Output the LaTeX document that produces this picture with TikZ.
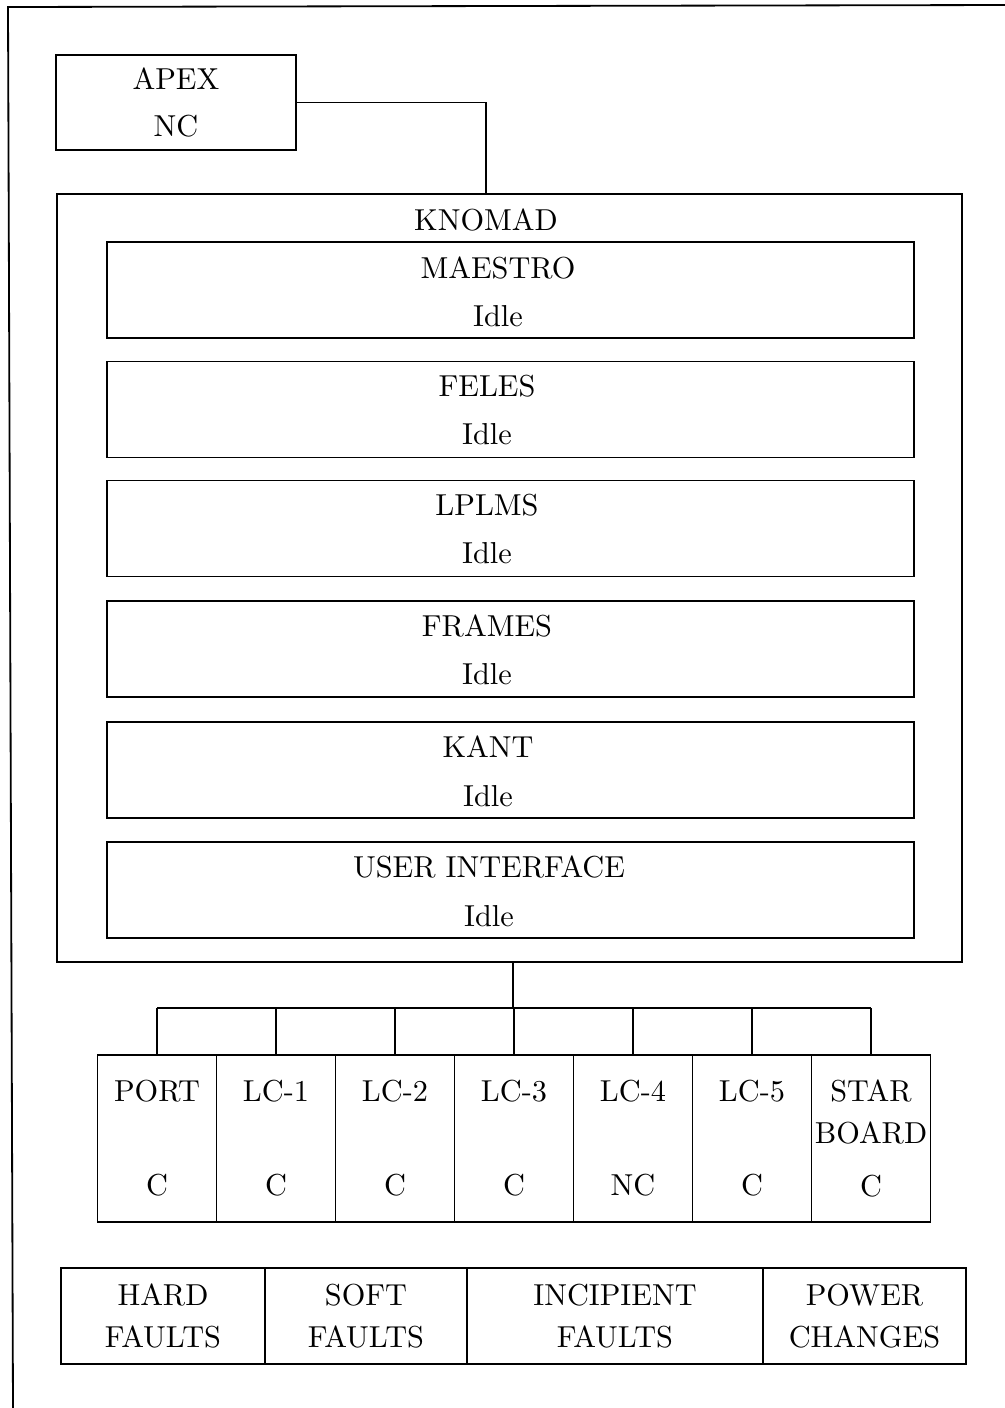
\documentclass[tikz,border=0pt]{standalone}
\usepackage{tikz}
\usetikzlibrary{positioning}
\newcommand\unitpx{0.33pt}
\tikzset{
  box/.style={draw, semithick, inner sep=0pt, outer sep=0pt, align=center},
  modbox/.style={box, minimum width=807*\unitpx, minimum height=96*\unitpx},
  lcbox/.style={box, minimum width=119*\unitpx, minimum height=167*\unitpx},
  faultbox/.style={box, minimum height=96*\unitpx},
  lbl/.style={inner sep=0pt, align=center},
  wire/.style={semithick},
}
\begin{document}
\begin{tikzpicture}[x=\unitpx, y=-\unitpx]
        \useasboundingbox (0,0) rectangle (1005,1408);
        \draw[wire] (13,1408) -- (8,7) -- (1005,5);
        % top level
        \node[box, minimum width=240*\unitpx, minimum height=95*\unitpx] (apex) at (176,102.5) {APEX\\[3.5pt]NC};
        \node[box, minimum width=905*\unitpx, minimum height=768*\unitpx] (knomad) at (509.5,578) {};
        \node[lbl] (ktitle) at (486,220) {KNOMAD};
        \draw[wire] (apex.east) -| (ktitle |- knomad.north);
        % modules
        \node[modbox] (maestro) at (510.5,290) {};
        \node[lbl] (maestrot) at (498,292) {MAESTRO\\[4pt]Idle};
        \node[modbox] (feles) at (510.5,409.5) {};
        \node[lbl] (felest) at (487,410) {FELES\\[4pt]Idle};
        \node[modbox] (lplms) at (510.5,528.5) {};
        \node[lbl] (lplmst) at (487,529) {LPLMS\\[4pt]Idle};
        \node[modbox] (frames) at (510.5,649) {};
        \node[lbl] (framest) at (487,650) {FRAMES\\[4pt]Idle};
        \node[modbox] (kant) at (510.5,770) {};
        \node[lbl] (kantt) at (488,771.5) {KANT\\[4pt]Idle};
        \node[modbox] (ui) at (510.5,890) {};
        \node[lbl] (uit) at (489,891.5) {USER INTERFACE\\[4pt]Idle};
        % line controllers
        \node[lcbox] (port) at (157,1138.5) {PORT\\[19pt]C};
        \node[lcbox, right=0pt of port] (lc1) {LC-1\\[19pt]C};
        \node[lcbox, right=0pt of lc1] (lc2) {LC-2\\[19pt]C};
        \node[lcbox, right=0pt of lc2] (lc3) {LC-3\\[19pt]C};
        \node[lcbox, right=0pt of lc3] (lc4) {LC-4\\[19pt]NC};
        \node[lcbox, right=0pt of lc4] (lc5) {LC-5\\[19pt]C};
        \node[lcbox, right=0pt of lc5] (star) {STAR\\[2pt]BOARD\\[5.5pt]C};
        \coordinate (bus) at (513,1008);
        \draw[wire] (bus |- knomad.south) -- (bus);
        \draw[wire] (port.north |- bus) -- (star.north |- bus);
        \foreach \n in {port,lc1,lc2,lc3,lc4,lc5,star}
          \draw[wire] (\n.north) -- (\n.north |- bus);
        % fault classes
        \node[faultbox, minimum width=204*\unitpx] (hard) at (163,1316) {HARD\\[2pt]FAULTS};
        \node[faultbox, minimum width=202*\unitpx, right=0pt of hard] (soft) {SOFT\\[2pt]FAULTS};
        \node[faultbox, minimum width=296*\unitpx, right=0pt of soft] (incip) {INCIPIENT\\[2pt]FAULTS};
        \node[faultbox, minimum width=203*\unitpx, right=0pt of incip] (power) {POWER\\[2pt]CHANGES};
\end{tikzpicture}
\end{document}
